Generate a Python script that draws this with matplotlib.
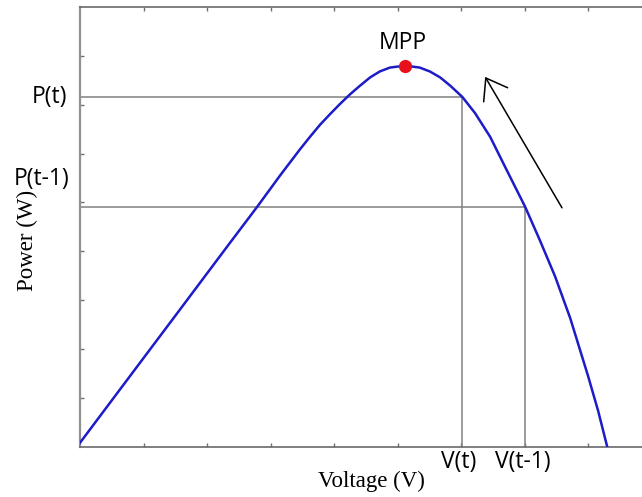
import matplotlib.pyplot as plt

# P-V curve (arbitrary units)
voltage = [0.00, 0.79, 1.57, 2.36, 2.79, 3.15, 3.46, 3.62, 3.78, 3.94, 4.09, 4.25, 4.41,
           4.57, 4.72, 4.88, 5.12, 5.35, 5.51, 5.67, 5.83, 6.02, 6.22, 6.46, 6.72,
           7.01, 7.24, 7.48, 7.72, 8.00, 8.16, 8.30]
power = [0.08, 1.45, 2.80, 4.17, 4.91, 5.55, 6.08, 6.34, 6.59, 6.81, 7.01, 7.21, 7.39,
         7.56, 7.68, 7.76, 7.80, 7.76, 7.68, 7.56, 7.39, 7.16, 6.83, 6.34, 5.66,
         4.91, 4.23, 3.49, 2.63, 1.45, 0.73, 0.01]

mpp = (5.12, 7.80)
v_t, p_t = 6.02, 7.16
v_t1, p_t1 = 7.01, 4.91
arrow_tail = (7.59, 4.89)
arrow_tip = (6.38, 7.57)

fig = plt.figure(figsize=(6.42, 4.97), dpi=100)
ax = fig.add_axes([80 / 642, 50.3 / 497, 562 / 642, 439.7 / 497])

ax.plot(voltage, power, color='#1c1cc8', lw=1.8, zorder=3)
ax.plot(*mpp, 'o', color='#e8101a', ms=8.5, zorder=4)
ax.annotate('MPP', mpp, xytext=(-1.5, 8), textcoords='offset points',
            ha='center', va='bottom', fontsize=16.5, family='Open Sans')

# operating point lines
grey = '#808080'
ax.plot([0, v_t], [p_t, p_t], color=grey, lw=1.1)
ax.plot([v_t, v_t], [0, p_t], color=grey, lw=1.1)
ax.plot([0, v_t1], [p_t1, p_t1], color=grey, lw=1.1)
ax.plot([v_t1, v_t1], [0, p_t1], color=grey, lw=1.1)

ax.annotate('', xy=arrow_tip, xytext=arrow_tail,
            arrowprops=dict(arrowstyle='->, head_length=0.7, head_width=0.5',
                            mutation_scale=20, color='black', lw=1.1,
                            shrinkA=0, shrinkB=0))

# custom tick-like labels
sans = dict(fontsize=16.5, family='Open Sans')
ax.annotate('P(t)', (0, p_t), xytext=(-9.5, 0), textcoords='offset points',
            ha='right', va='center', **sans)
ax.annotate('P(t-1)', (0, p_t1), xytext=(-7.5, 20), textcoords='offset points',
            ha='right', va='center', **sans)
ax.annotate('V(t)', (v_t, 0), xytext=(-2.5, -2.5), textcoords='offset points',
            ha='center', va='top', **sans)
ax.annotate('V(t-1)', (v_t1, 0), xytext=(-2, -2.5), textcoords='offset points',
            ha='center', va='top', **sans)

ax.set_xlim(0, 8.85)
ax.set_ylim(0, 9)
ax.set_xticks(range(1, 9))
ax.set_yticks(range(1, 9))
ax.set_xticklabels([])
ax.set_yticklabels([])
ax.tick_params(direction='in', length=3, width=1, color='#707070', top=True)

for side in ['left', 'bottom', 'top']:
    ax.spines[side].set_color('#6a6a6a')
    ax.spines[side].set_linewidth(1.2)
ax.spines['left'].set_color('#909090')
ax.spines['left'].set_linewidth(1.6)
ax.spines['right'].set_visible(False)

ax.set_xlabel('Voltage (V)', fontsize=16.5, family='Liberation Serif', va='center')
ax.xaxis.set_label_coords(0.518, -0.080)
ax.set_ylabel('Power (W)', fontsize=16.5, family='Liberation Serif', va='center')
ax.yaxis.set_label_coords(-0.094, 0.47)

fig.savefig('out.png', dpi=100)
